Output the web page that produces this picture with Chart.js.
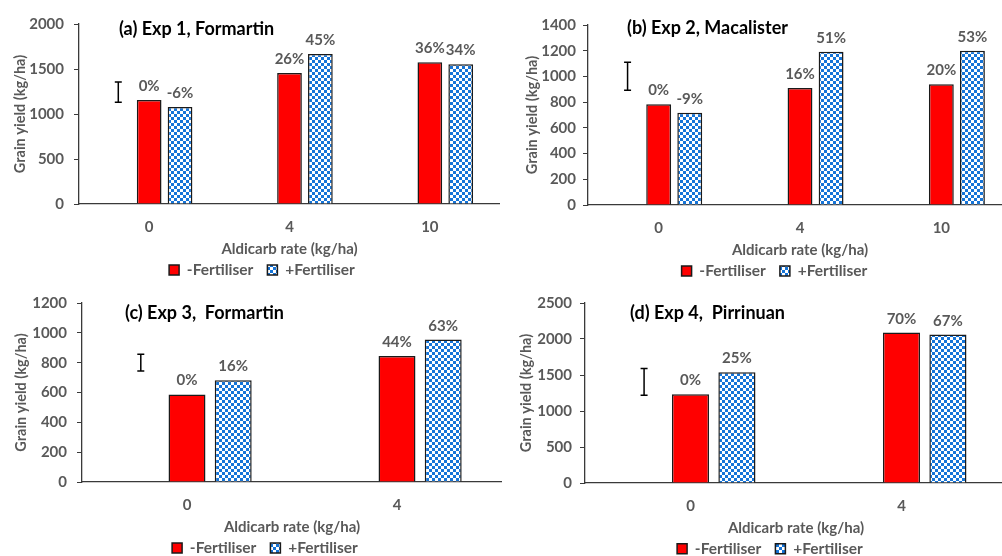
<!DOCTYPE html>
<html>
<head>
<meta charset="utf-8">
<script src="https://cdn.jsdelivr.net/npm/chart.js@4.4.1/dist/chart.umd.min.js"></script>
<style>
    html, body { margin: 0; padding: 0; background: #fff; }
    body { width: 1002px; height: 556px; overflow: hidden; position: relative; }
    .panel { position: absolute; }
</style>
</head>
<body>
<canvas id="chartA" class="panel" width="500" height="280" style="left:0;top:0"></canvas>
<canvas id="chartB" class="panel" width="512" height="280" style="left:500px;top:0"></canvas>
<canvas id="chartC" class="panel" width="502" height="276" style="left:0;top:280px"></canvas>
<canvas id="chartD" class="panel" width="512" height="276" style="left:500px;top:280px"></canvas>
<script>
// (a) Exp 1, Formartin
var ratesA = ['0', '4', '10'];
var noFertA = [1156, 1456, 1574];
var fertA = [1078, 1667, 1552];
var pctNoFertA = ['0%', '26%', '36%'];
var pctFertA = ['-6%', '45%', '34%'];
var lsdA = [1130, 1356];
var yTicksA = [0, 500, 1000, 1500, 2000];

// (b) Exp 2, Macalister
var ratesB = ['0', '4', '10'];
var noFertB = [783, 910, 939];
var fertB = [718, 1192, 1200];
var pctNoFertB = ['0%', '16%', '20%'];
var pctFertB = ['-9%', '51%', '53%'];
var lsdB = [892, 1110];
var yTicksB = [0, 200, 400, 600, 800, 1000, 1200, 1400];

// (c) Exp 3, Formartin
var ratesC = ['0', '4'];
var noFertC = [587, 844];
var fertC = [682, 955];
var pctNoFertC = ['0%', '44%'];
var pctFertC = ['16%', '63%'];
var lsdC = [744, 857];
var yTicksC = [0, 200, 400, 600, 800, 1000, 1200];

// (d) Exp 4, Pirrinuan
var ratesD = ['0', '4'];
var noFertD = [1232, 2090];
var fertD = [1538, 2062];
var pctNoFertD = ['0%', '70%'];
var pctFertD = ['25%', '67%'];
var lsdD = [1218, 1589];
var yTicksD = [0, 500, 1000, 1500, 2000, 2500];

var GREY = '#595959';
var AXIS = '#3a3a3a';
var FONT = 'Lato';
var LEGEND_SIZE = 15.5;
Chart.defaults.font.family = FONT;

function makeChecker(ctx) {
    var c = document.createElement('canvas');
    c.width = 6; c.height = 6;
    var g = c.getContext('2d');
    g.fillStyle = '#ffffff';
    g.fillRect(0, 0, 6, 6);
    g.fillStyle = '#1574d8';
    g.fillRect(0, 0, 3, 3);
    g.fillRect(3, 3, 3, 3);
    return ctx.createPattern(c, 'repeat');
}

// LSD bar, % labels, panel title, legend placement
var panelDecor = {
    id: 'panelDecor',
    afterLayout: function (chart, args, opts) {
        var lg = chart.legend;
        var pad = lg.options.labels.padding;
        var dx = opts.legendX - (lg.left + lg.right) / 2;
        var dy = opts.legendY - (lg.top + pad + LEGEND_SIZE / 2);
        lg.left += dx; lg.right += dx;
        lg.top += dy;
        // legend clips to its own box, so keep the box tall enough
        lg.bottom = lg.top + 44;
        lg.height = 44;
    },
    afterDatasetsDraw: function (chart, args, opts) {
        var ctx = chart.ctx;
        ctx.save();
        var el = chart.getDatasetMeta(0).data[0];
        ctx.strokeStyle = '#000';
        ctx.lineWidth = 1.5;
        ctx.beginPath();
        ctx.moveTo(el.x, el.y); ctx.lineTo(el.x, el.base);
        ctx.moveTo(el.x - 3.5, el.y); ctx.lineTo(el.x + 3.5, el.y);
        ctx.moveTo(el.x - 3.5, el.base); ctx.lineTo(el.x + 3.5, el.base);
        ctx.stroke();

        ctx.font = 'bold 15px ' + FONT;
        ctx.fillStyle = GREY;
        ctx.textAlign = 'center';
        ctx.textBaseline = 'alphabetic';
        [1, 2].forEach(function (di) {
            var ds = chart.data.datasets[di];
            chart.getDatasetMeta(di).data.forEach(function (bar, i) {
                ctx.fillText(ds.pct[i], bar.x, bar.y - 9);
            });
        });

        ctx.font = 'bold 18px ' + FONT;
        ctx.fillStyle = '#000';
        ctx.textAlign = 'left';
        ctx.textBaseline = 'middle';
        ctx.fillText(opts.title, chart.chartArea.left + opts.titleDx, opts.titleY);
        ctx.restore();
    }
};

function drawPanel(canvasId, p) {
    var canvas = document.getElementById(canvasId);
    var ctx = canvas.getContext('2d');
    var W = canvas.width, H = canvas.height;
    var xlh = 15 * 1.2, ylh = 14.5 * 1.2;
    var lsdData = p.rates.map(function (r, i) { return i === 0 ? p.lsd : null; });
    return new Chart(ctx, {
        type: 'bar',
        data: {
            labels: p.rates,
            datasets: [
                { label: 'LSD', data: lsdData, backgroundColor: 'rgba(0,0,0,0)', borderWidth: 0 },
                { label: '-Fertiliser', data: p.noFert, pct: p.pctNoFert, backgroundColor: '#FF0000', borderColor: '#1a1a1a', borderWidth: 1.5 },
                { label: '+Fertiliser', data: p.fert, pct: p.pctFert, backgroundColor: makeChecker(ctx), borderColor: '#1a1a1a', borderWidth: 1.5 }
            ]
        },
        options: {
            responsive: false,
            animation: false,
            events: [],
            categoryPercentage: 0.66,
            barPercentage: 0.8,
            layout: { padding: { top: p.top, right: W - p.right, bottom: 0, left: 0 } },
            scales: {
                x: {
                    grid: { display: false, drawTicks: false },
                    border: { display: true, color: AXIS, width: 1.3 },
                    ticks: { color: GREY, font: { size: 15, weight: 'bold' }, padding: 14.5 },
                    title: {
                        display: true, text: 'Aldicarb rate (kg/ha)', color: GREY,
                        font: { size: 15, weight: 'bold' },
                        padding: { top: 0, bottom: (H - 16) - p.xTitleY - xlh / 2 }
                    },
                    afterFit: function (s) { s.height = H - 16 - p.bottom; }
                },
                y: {
                    min: p.yTicks[0],
                    max: p.yTicks[p.yTicks.length - 1],
                    afterBuildTicks: function (s) { s.ticks = p.yTicks.map(function (v) { return { value: v }; }); },
                    grid: { drawOnChartArea: false, drawTicks: true, tickLength: 5, color: AXIS },
                    border: { display: true, color: AXIS, width: 1.3 },
                    ticks: {
                        color: GREY, font: { size: 15, weight: 'bold' }, padding: p.yTickPad,
                        callback: function (v) { return String(v); }
                    },
                    title: {
                        display: true, text: 'Grain yield (kg/ha)', color: GREY,
                        font: { size: 14.5, weight: 'bold' },
                        padding: { top: p.yTitleX - ylh / 2, bottom: 0 }
                    },
                    afterFit: function (s) { s.width = p.left; }
                }
            },
            plugins: {
                tooltip: { enabled: false },
                legend: {
                    position: 'bottom',
                    maxHeight: 16,
                    labels: {
                        color: GREY,
                        font: { size: LEGEND_SIZE, weight: 'bold' },
                        boxWidth: 10,
                        boxHeight: 10,
                        padding: 14,
                        filter: function (item) { return item.datasetIndex > 0; }
                    }
                },
                panelDecor: { title: p.title, titleDx: p.titleDx, titleY: p.titleY, legendX: p.legendX, legendY: p.legendY }
            }
        },
        plugins: [panelDecor]
    });
}

drawPanel('chartA', {
    rates: ratesA, noFert: noFertA, fert: fertA, pctNoFert: pctNoFertA, pctFert: pctFertA, lsd: lsdA, yTicks: yTicksA,
    title: '(a) Exp 1, Formartin', titleDx: 40, titleY: 29,
    left: 79, right: 500, top: 24, bottom: 204, yTickPad: 10, yTitleX: 20, xTitleY: 249, legendX: 262, legendY: 270
});
drawPanel('chartB', {
    rates: ratesB, noFert: noFertB, fert: fertB, pctNoFert: pctNoFertB, pctFert: pctFertB, lsd: lsdB, yTicks: yTicksB,
    title: '(b) Exp 2, Macalister', titleDx: 39, titleY: 28.5,
    left: 88, right: 512, top: 25, bottom: 205, yTickPad: 7, yTitleX: 32, xTitleY: 250, legendX: 274.5, legendY: 271
});
drawPanel('chartC', {
    rates: ratesC, noFert: noFertC, fert: fertC, pctNoFert: pctNoFertC, pctFert: pctFertC, lsd: lsdC, yTicks: yTicksC,
    title: '(c) Exp 3,  Formartin', titleDx: 43, titleY: 33,
    left: 82, right: 502, top: 23, bottom: 202, yTickPad: 10, yTitleX: 21.7, xTitleY: 247, legendX: 265, legendY: 268
});
drawPanel('chartD', {
    rates: ratesD, noFert: noFertD, fert: fertD, pctNoFert: pctNoFertD, pctFert: pctFertD, lsd: lsdD, yTicks: yTicksD,
    title: '(d) Exp 4,  Pirrinuan', titleDx: 45, titleY: 33,
    left: 85, right: 507, top: 23, bottom: 203, yTickPad: 8, yTitleX: 26.7, xTitleY: 248, legendX: 270, legendY: 268.7
});
</script>
</body>
</html>
